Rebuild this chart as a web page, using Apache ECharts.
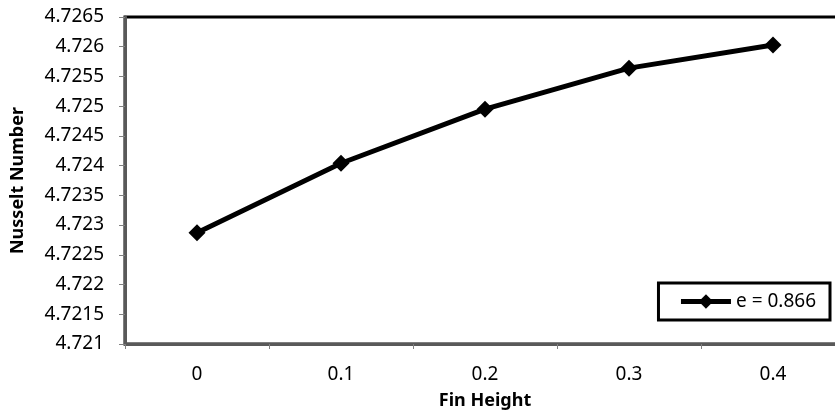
<!DOCTYPE html>
<html>
<head>
<meta charset="utf-8">
<script src="https://cdn.jsdelivr.net/npm/echarts@6/dist/echarts.min.js"></script>
<style>
html,body{margin:0;padding:0;background:#fff;}
#c{width:835px;height:413px;}
</style>
</head>
<body>
<div id="c"></div>
<script>
const categories = ['0', '0.1', '0.2', '0.3', '0.4'];
const nusselt = [4.72287, 4.72404, 4.72495, 4.72564, 4.72603];
const seriesName = 'e = 0.866';
const yMin = 4.721, yMax = 4.7265, yStep = 0.0005;

const chart = echarts.init(document.getElementById('c'));
const font = 'Noto Sans';
chart.setOption({
  animation: false,
  backgroundColor: '#fff',
  grid: {
    left: 125, top: 17, width: 720, height: 327,
    outerBoundsMode: 'none',
    containLabel: false,
    show: true, borderColor: '#000', borderWidth: 3, backgroundColor: 'transparent'
  },
  legend: {
    right: 5, top: 283,
    data: [seriesName],
    borderColor: '#000', borderWidth: 3, borderRadius: 0,
    padding: [9, 14, 9, 20],
    itemWidth: 50, itemHeight: 18, itemGap: 5,
    lineStyle: { width: 5, color: '#000' },
    textStyle: { fontFamily: font, fontSize: 19, color: '#000' }
  },
  xAxis: {
    type: 'category',
    data: categories,
    boundaryGap: true,
    name: 'Fin Height',
    nameLocation: 'middle',
    nameGap: 48,
    nameTextStyle: { fontFamily: font, fontSize: 18, fontWeight: 'bold', color: '#000' },
    axisLine: { show: true, lineStyle: { color: '#595959', width: 3 } },
    axisTick: { show: true, length: 5, lineStyle: { color: '#808080', width: 1 } },
    axisLabel: { fontFamily: font, fontSize: 19, color: '#000', margin: 21 },
    splitLine: { show: false }
  },
  yAxis: {
    type: 'value',
    min: yMin, max: yMax, interval: yStep,
    name: 'Nusselt Number',
    nameLocation: 'middle',
    nameGap: 98,
    nameTextStyle: { fontFamily: font, fontSize: 18, fontWeight: 'bold', color: '#000' },
    axisLine: { show: true, lineStyle: { color: '#595959', width: 3 } },
    axisTick: { show: true, length: 6, lineStyle: { color: '#808080', width: 1 } },
    axisLabel: {
      fontFamily: font, fontSize: 19, color: '#000', margin: 21,
      formatter: v => String(parseFloat(v.toFixed(4)))
    },
    splitLine: { show: false }
  },
  series: [{
    name: seriesName,
    type: 'line',
    data: nusselt,
    symbol: 'diamond',
    symbolSize: 17,
    lineStyle: { color: '#000', width: 5 },
    itemStyle: { color: '#000' }
  }]
});
</script>
</body>
</html>
